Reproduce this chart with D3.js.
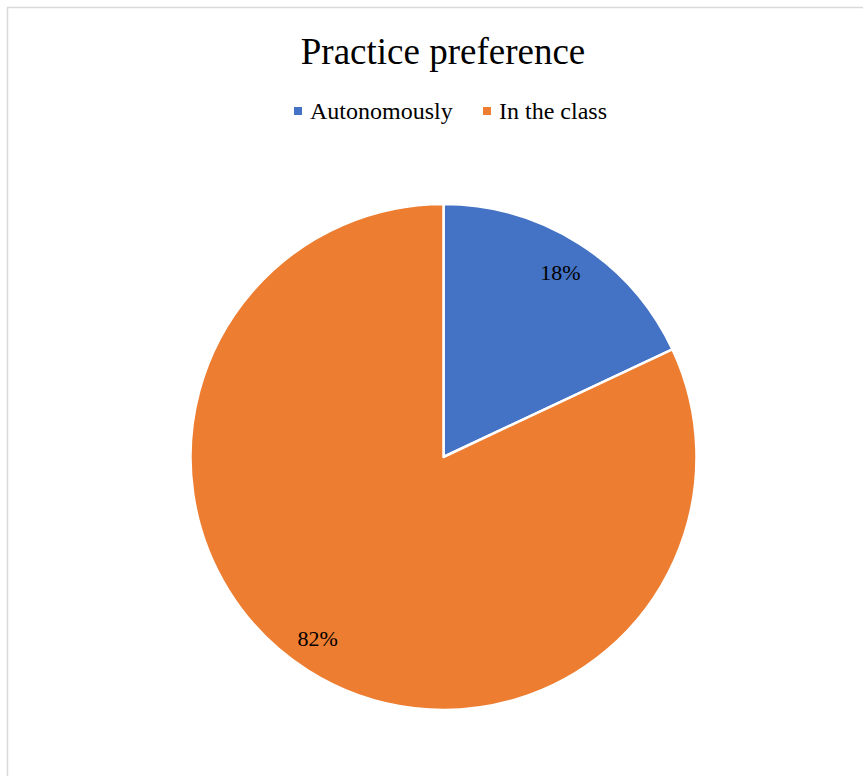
<!DOCTYPE html>
<html>
<head>
<meta charset="utf-8">
<script src="https://cdn.jsdelivr.net/npm/d3@7"></script>
<style>
  html, body { margin: 0; padding: 0; background: #fff; }
  svg { display: block; font-family: "Liberation Serif", "Times New Roman", serif; }
</style>
</head>
<body>
<svg id="chart" width="863" height="776"></svg>
<script>
const categories = ["Autonomously", "In the class"];
const shares = [18, 82];
const colors = ["#4472C4", "#ED7D31"];
const chartTitle = "Practice preference";

const svg = d3.select("#chart");
const W = 863, H = 776;

// chart area frame
svg.append("rect")
  .attr("x", 7.5).attr("y", 7.5)
  .attr("width", W + 20).attr("height", H + 20)
  .attr("fill", "#fff")
  .attr("stroke", "#d9d9d9")
  .attr("stroke-width", 1.5);

// title
svg.append("text")
  .attr("x", 443).attr("y", 64)
  .attr("text-anchor", "middle")
  .attr("font-size", 37)
  .attr("fill", "#000")
  .text(chartTitle);

// legend
const legend = svg.append("g").attr("transform", "translate(294,111)");
const legendX = d3.scaleOrdinal().domain(categories).range([0, 189]);
categories.forEach((c, i) => {
  const g = legend.append("g").attr("transform", `translate(${legendX(c)},0)`);
  g.append("rect").attr("x", 0).attr("y", -4).attr("width", 8).attr("height", 8).attr("fill", colors[i]);
  g.append("text").attr("x", 16).attr("y", 7.5).attr("font-size", 24).attr("fill", "#000").text(c);
});

// pie
const cx = 443.5, cy = 457, R = 253;
const color = d3.scaleOrdinal().domain(categories).range(colors);
const pie = d3.pie().sort(null).value(d => d.value);
const data = categories.map((c, i) => ({ name: c, value: shares[i] }));
const arcs = pie(data);
const arc = d3.arc().innerRadius(0).outerRadius(R);
const labelArc = d3.arc().innerRadius(218).outerRadius(218);

const g = svg.append("g").attr("transform", `translate(${cx},${cy})`);
g.selectAll("path.slice")
  .data(arcs)
  .join("path")
  .attr("class", "slice")
  .attr("d", arc)
  .attr("fill", d => color(d.data.name))
  .attr("stroke", "#fff")
  .attr("stroke-width", 2.5)
  .attr("stroke-linejoin", "round");

const total = d3.sum(shares);
g.selectAll("text.lbl")
  .data(arcs)
  .join("text")
  .attr("class", "lbl")
  .attr("transform", d => {
    const [x, y] = labelArc.centroid(d);
    // labels on the left half sit a little further out horizontally
    return `translate(${x < 0 ? x - 9 : x},${y < 0 ? y : y - 3})`;
  })
  .attr("text-anchor", "middle")
  .attr("dominant-baseline", "central")
  .attr("font-size", 22)
  .attr("fill", "#000")
  .text(d => `${Math.round(d.data.value / total * 100)}%`);
</script>
</body>
</html>
